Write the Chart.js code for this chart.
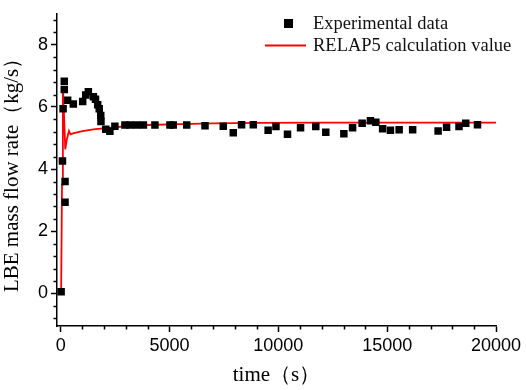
<!DOCTYPE html>
<html>
<head>
<meta charset="utf-8">
<script src="https://cdn.jsdelivr.net/npm/chart.js"></script>
<style>
  body { margin: 0; background: #fff; }
  canvas { display: block; }
</style>
</head>
<body>
<canvas id="chart" width="526" height="390"></canvas>
<script>
// experimental points (time s, flow kg/s)
const expTime = [20, 80, 200, 200, 110, 165, 165, 320, 580, 1010, 1150, 1270, 1500, 1600, 1700, 1770, 1840, 1850,
  2070, 2260, 2490, 2950, 3180, 3490, 3800, 4330, 5020, 5170, 5790, 6630, 7470, 7930, 8310, 8850,
  9530, 9890, 10420, 11020, 11720, 12180, 13010, 13410, 13850, 14230, 14480, 14790, 15150, 15550,
  16170, 17340, 17730, 18300, 18610, 19150];
const expFlow = [0.05, 4.26, 3.6, 2.93, 5.94, 6.83, 6.56, 6.22, 6.1, 6.18, 6.39, 6.49, 6.33, 6.25, 6.07, 5.94, 5.73, 5.53,
  5.28, 5.22, 5.38, 5.42, 5.42, 5.42, 5.42, 5.42, 5.42, 5.42, 5.42, 5.4, 5.38, 5.17, 5.43, 5.43,
  5.25, 5.37, 5.12, 5.33, 5.37, 5.19, 5.14, 5.33, 5.48, 5.56, 5.51, 5.3, 5.25, 5.27,
  5.27, 5.23, 5.35, 5.37, 5.48, 5.43];

// RELAP5 curve
const calcTime = [0, 20, 60, 100, 140, 210, 280, 380, 450, 600, 1000, 1500, 2200, 3000, 4000, 5500, 7000, 9000, 12000, 16000, 20100];
const calcFlow = [0.02, 0.05, 3.5, 6.65, 6.0, 4.64, 4.95, 5.23, 5.12, 5.16, 5.22, 5.28, 5.33, 5.38, 5.42, 5.45, 5.47, 5.49, 5.5, 5.5, 5.5];

const xMajor = [0, 5000, 10000, 15000, 20000];
const yMajor = [0, 2, 4, 6, 8];
const xMinorStep = 1000;
const yMinorStep = 0.4;

const serif = "'Liberation Serif', 'Times New Roman', serif";
const sans = "'Liberation Sans', Arial, sans-serif";

Chart.defaults.color = '#000';

function toXY(xs, ys) {
  return xs.map((x, i) => ({ x: x, y: ys[i] }));
}

// short minor tick marks, outside the axes
const minorTicks = {
  id: 'minorTicks',
  afterDraw(chart) {
    const ctx = chart.ctx;
    const xs = chart.scales.x, ys = chart.scales.y;
    ctx.save();
    ctx.strokeStyle = '#000';
    ctx.lineWidth = 1.5;
    ctx.beginPath();
    for (let v = 0; v <= xs.max; v += xMinorStep) {
      if (xMajor.includes(v)) continue;
      const px = Math.round(xs.getPixelForValue(v)) + 0.5;
      ctx.moveTo(px, xs.top);
      ctx.lineTo(px, xs.top + 3.5);
    }
    for (let k = Math.ceil(ys.min / yMinorStep); k * yMinorStep <= ys.max; k++) {
      const v = +(k * yMinorStep).toFixed(2);
      if (yMajor.includes(v)) continue;
      const py = Math.round(ys.getPixelForValue(v)) + 0.5;
      ctx.moveTo(ys.right, py);
      ctx.lineTo(ys.right - 3.5, py);
    }
    ctx.stroke();
    ctx.restore();
  }
};

// legend inside the plot, upper right
const insideLegend = {
  id: 'insideLegend',
  afterDraw(chart) {
    const ctx = chart.ctx;
    const ds = chart.data.datasets;
    ctx.save();
    ctx.font = '18.5px ' + serif;
    ctx.textBaseline = 'middle';
    // row 1: square marker
    ctx.fillStyle = ds[0].backgroundColor;
    ctx.fillRect(284, 19, 9, 9);
    ctx.fillStyle = '#111';
    ctx.fillText(ds[0].label, 313, 24);
    // row 2: line
    ctx.strokeStyle = ds[1].borderColor;
    ctx.lineWidth = 2;
    ctx.beginPath();
    ctx.moveTo(265, 45.5);
    ctx.lineTo(306, 45.5);
    ctx.stroke();
    ctx.fillText(ds[1].label, 313, 46);
    ctx.restore();
  }
};

new Chart(document.getElementById('chart'), {
  type: 'scatter',
  data: {
    datasets: [
      {
        label: 'Experimental data',
        data: toXY(expTime, expFlow),
        pointStyle: 'rect',
        pointRadius: 5.3,
        backgroundColor: '#000',
        borderColor: '#000',
        borderWidth: 0
      },
      {
        label: 'RELAP5 calculation value',
        data: toXY(calcTime, calcFlow),
        showLine: true,
        pointRadius: 0,
        borderColor: '#ff0000',
        backgroundColor: '#ff0000',
        borderWidth: 1.8,
        tension: 0
      }
    ]
  },
  options: {
    responsive: false,
    animation: false,
    devicePixelRatio: 1,
    layout: { padding: { top: 2, right: 30, left: 0, bottom: 0 } },
    plugins: {
      legend: { display: false },
      tooltip: { enabled: false }
    },
    scales: {
      x: {
        type: 'linear',
        min: -170,
        max: 20000,
        afterBuildTicks: s => { s.ticks = xMajor.map(v => ({ value: v })); },
        afterFit: s => { s.height = 64; },
        border: { display: true, color: '#000', width: 1.5 },
        grid: { drawOnChartArea: false, drawTicks: true, tickLength: 6, tickColor: '#000', tickWidth: 1.5 },
        ticks: { font: { family: sans, size: 18 }, padding: 3, maxRotation: 0, callback: v => String(v) },
        title: {
          display: true,
          text: 'time（s）',
          font: { family: serif, size: 21 },
          padding: { top: 0, bottom: 2 }
        }
      },
      y: {
        type: 'linear',
        min: -1.05,
        max: 9,
        afterBuildTicks: s => { s.ticks = yMajor.map(v => ({ value: v })); },
        afterFit: s => { s.width = 57; },
        border: { display: true, color: '#000', width: 1.5 },
        grid: { drawOnChartArea: false, drawTicks: true, tickLength: 6, tickColor: '#000', tickWidth: 1.5 },
        ticks: { font: { family: sans, size: 18 }, padding: 3, callback: v => String(v) },
        title: {
          display: true,
          text: 'LBE mass flow rate（kg/s）',
          font: { family: serif, size: 21 },
          padding: { top: 0, bottom: 0 }
        }
      }
    }
  },
  plugins: [minorTicks, insideLegend]
});
</script>
</body>
</html>
